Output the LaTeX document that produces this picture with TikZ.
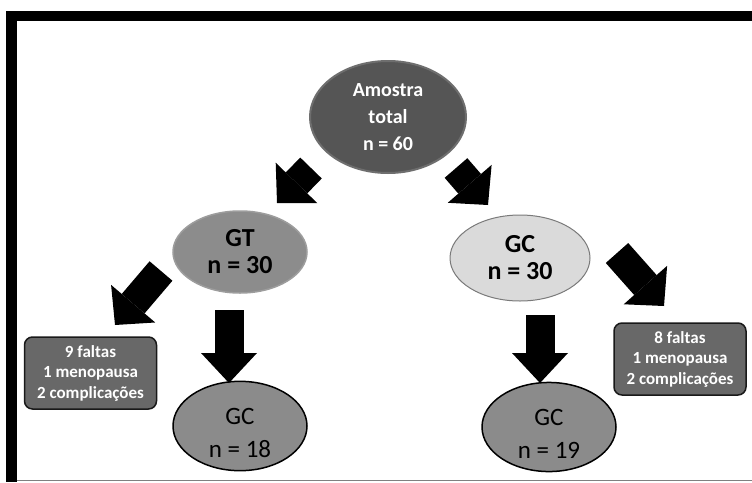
\documentclass[tikz,border=0pt]{standalone}
\usepackage{fontspec}
\setmainfont{Carlito}
\newfontfamily\cf{Carlito}
\usetikzlibrary{arrows.meta,shapes.geometric}
\definecolor{ctot}{HTML}{555555}
\definecolor{cgt}{HTML}{8C8C8C}
\definecolor{cgc}{HTML}{DADADA}
\definecolor{cgcb}{HTML}{7A7A7A}
\definecolor{cfin}{HTML}{8B8B8B}
\definecolor{cbox}{HTML}{686868}
\begin{document}
\begin{tikzpicture}[x=1pt,y=-1pt,
  ell/.style={ellipse, inner sep=0pt, align=center},
  totnode/.style={ell, fill=ctot, draw=ctot!85!white, line width=2pt, text=white,
     minimum width=156pt, minimum height=112pt,
     font=\cf\bfseries\fontsize{20}{27}\selectfont},
  gtnode/.style={ell, fill=cgt, draw=cgt!85!white, line width=1.5pt,
     minimum width=134pt, minimum height=82pt,
     font=\cf\bfseries\fontsize{26}{27}\selectfont},
  gcnode/.style={ell, fill=cgc, draw=cgcb, line width=1pt,
     minimum width=140pt, minimum height=86pt,
     font=\cf\bfseries\fontsize{26}{27}\selectfont},
  finnode/.style={ell, fill=cfin, draw=black, line width=1.5pt,
     minimum width=134pt, minimum height=80pt,
     font=\cf\fontsize{25}{33}\selectfont},
  boxnode/.style={rectangle, rounded corners=8pt, fill=cbox, draw=black!90, line width=1.5pt,
     text=white, align=center, inner sep=0pt, minimum width=132pt, minimum height=72pt,
     font=\cf\bfseries\fontsize{17}{20.5}\selectfont},
  blk/.style={draw=black, line width=30pt,
     -{Triangle[length=28pt, width=58pt, line width=0pt, fill=black]}},
  blkd/.style={draw=black, line width=29pt,
     -{Triangle[length=30pt, width=56pt, line width=0pt, fill=black]}}
]
\useasboundingbox (0,0) rectangle (752,482);
\fill[white] (0,0) rectangle (752,482);
% frame
\fill[black] (6,11) rectangle (752,21);
\fill[black] (6,11) rectangle (17,482);
\draw[gray, line width=1.2pt] (17,480.8) -- (752,480.8);

% nodes
\node[totnode] (tot) at (388,117) {Amostra\\total\\n = 60};
\node[gtnode] (gt) at (240,252) {GT\\n = 30};
\node[gcnode] (gc) at (520,258) {GC\\n = 30};
\node[finnode] (gc18) at (240,426) {\rule{0pt}{30pt}GC\\n = 18};
\node[finnode] (gc19) at (549,427) {\rule{0pt}{30pt}GC\\n = 19};
\node[boxnode] (bl) at (90.5,373) {9 faltas\\1 menopausa\\2 complicações};
\node[boxnode] (br) at (680,359) {8 faltas\\1 menopausa\\2 complicações};

% arrow ends
\coordinate (a1s) at (311,168);
\coordinate (a1e) at (277,203);
\coordinate (a2s) at (456,168);
\coordinate (a2e) at (488,205);
\coordinate (a3s) at (161,271);
\coordinate (a3e) at (115,325);
\coordinate (a4s) at (617,253);
\coordinate (a4e) at (664,306);
\coordinate (a5s) at (229,310);
\coordinate (a5e) at (229,383);
\coordinate (a6s) at (540,315);
\coordinate (a6e) at (540,383);

\draw[blk] (a1s) -- (a1e);
\draw[blk] (a2s) -- (a2e);
\draw[blk] (a3s) -- (a3e);
\draw[blk] (a4s) -- (a4e);
\draw[blkd] (a5s) -- (a5e);
\draw[blkd] (a6s) -- (a6e);
\end{tikzpicture}
\end{document}
